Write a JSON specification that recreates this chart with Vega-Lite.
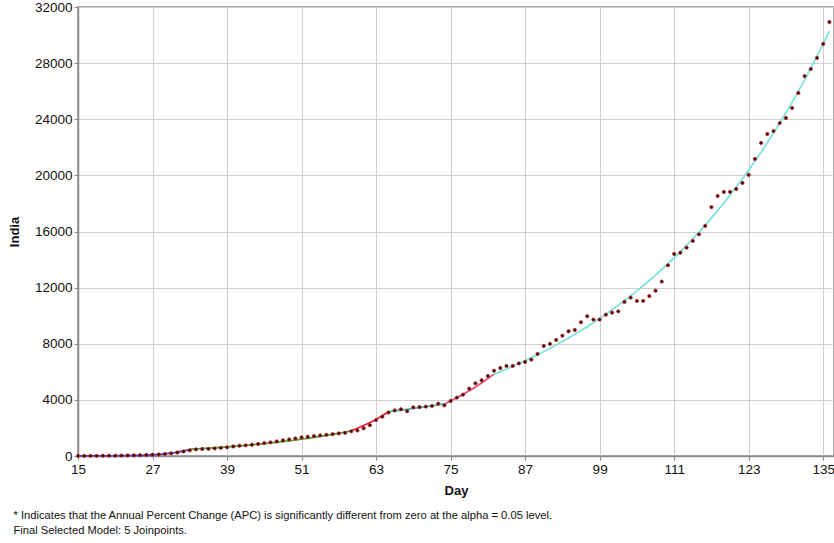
{
  "$schema": "https://vega.github.io/schema/vega-lite/v6.json",
  "width": 756,
  "height": 449,
  "autosize": "none",
  "padding": {"left": 78, "top": 7, "right": 0, "bottom": 87},
  "background": "white",
  "config": {
    "font": "Liberation Sans",
    "view": {"stroke": "#8c8c8c", "strokeWidth": 1.5},
    "axis": {"gridColor": "#cfcfcf", "gridWidth": 1, "domainColor": "#8c8c8c", "domainWidth": 1.5, "tickColor": "#8c8c8c", "tickSize": 4, "labelColor": "#111", "labelFontSize": 13.5, "titleFontSize": 13, "titleFontWeight": "bold", "titleColor": "#111", "labelFont": "Liberation Sans", "titleFont": "Liberation Sans"}
  },
  "title": {
    "text": ["* Indicates that the Annual Percent Change (APC) is significantly different from zero at the alpha = 0.05 level.", "\u00a0Final Selected Model: 5 Joinpoints."],
    "orient": "bottom",
    "anchor": "start",
    "frame": "bounds",
    "dx": 5,
    "offset": 12,
    "fontSize": 11.2,
    "fontWeight": "normal",
    "color": "#111",
    "lineHeight": 15,
    "font": "Liberation Sans"
  },
  "datasets": {
    "obs": [
      {"d":15,"v":5},{"d":16,"v":8},{"d":17,"v":10},{"d":18,"v":15},{"d":19,"v":20},{"d":20,"v":22},{"d":21,"v":25},{"d":22,"v":30},{"d":23,"v":40},{"d":24,"v":50},{"d":25,"v":60},{"d":26,"v":75},{"d":27,"v":90},{"d":28,"v":110},{"d":29,"v":150},{"d":30,"v":190},{"d":31,"v":250},{"d":32,"v":320},{"d":33,"v":400},{"d":34,"v":470},{"d":35,"v":500},{"d":36,"v":510},{"d":37,"v":540},{"d":38,"v":580},{"d":39,"v":620},{"d":40,"v":680},{"d":41,"v":730},{"d":42,"v":760},{"d":43,"v":800},{"d":44,"v":860},{"d":45,"v":920},{"d":46,"v":975},{"d":47,"v":1040},{"d":48,"v":1120},{"d":49,"v":1180},{"d":50,"v":1250},{"d":51,"v":1330},{"d":52,"v":1370},{"d":53,"v":1420},{"d":54,"v":1470},{"d":55,"v":1510},{"d":56,"v":1560},{"d":57,"v":1610},{"d":58,"v":1650},{"d":59,"v":1760},{"d":60,"v":1820},{"d":61,"v":1980},{"d":62,"v":2200},{"d":63,"v":2560},{"d":64,"v":2800},{"d":65,"v":3100},{"d":66,"v":3250},{"d":67,"v":3330},{"d":68,"v":3190},{"d":69,"v":3470},{"d":70,"v":3490},{"d":71,"v":3520},{"d":72,"v":3570},{"d":73,"v":3730},{"d":74,"v":3610},{"d":75,"v":3920},{"d":76,"v":4160},{"d":77,"v":4370},{"d":78,"v":4800},{"d":79,"v":5180},{"d":80,"v":5400},{"d":81,"v":5700},{"d":82,"v":6080},{"d":83,"v":6270},{"d":84,"v":6420},{"d":85,"v":6420},{"d":86,"v":6600},{"d":87,"v":6700},{"d":88,"v":6870},{"d":89,"v":7270},{"d":90,"v":7840},{"d":91,"v":7990},{"d":92,"v":8270},{"d":93,"v":8575},{"d":94,"v":8890},{"d":95,"v":8980},{"d":96,"v":9530},{"d":97,"v":9960},{"d":98,"v":9720},{"d":99,"v":9720},{"d":100,"v":10070},{"d":101,"v":10220},{"d":102,"v":10310},{"d":103,"v":10980},{"d":104,"v":11290},{"d":105,"v":11050},{"d":106,"v":11050},{"d":107,"v":11400},{"d":108,"v":11780},{"d":109,"v":12430},{"d":110,"v":13590},{"d":111,"v":14400},{"d":112,"v":14490},{"d":113,"v":14850},{"d":114,"v":15330},{"d":115,"v":15800},{"d":116,"v":16400},{"d":117,"v":17740},{"d":118,"v":18530},{"d":119,"v":18820},{"d":120,"v":18830},{"d":121,"v":19030},{"d":122,"v":19460},{"d":123,"v":20030},{"d":124,"v":21170},{"d":125,"v":22310},{"d":126,"v":22950},{"d":127,"v":23160},{"d":128,"v":23730},{"d":129,"v":24090},{"d":130,"v":24800},{"d":131,"v":25870},{"d":132,"v":27080},{"d":133,"v":27580},{"d":134,"v":28370},{"d":135,"v":29370},{"d":136,"v":30930}
    ],
    "fit": [
      {"d":15,"f":3,"s":"1"},{"d":16,"f":4,"s":"1"},{"d":17,"f":5,"s":"1"},{"d":18,"f":7,"s":"1"},{"d":19,"f":9,"s":"1"},{"d":20,"f":12,"s":"1"},{"d":21,"f":16,"s":"1"},{"d":22,"f":21,"s":"1"},{"d":23,"f":29,"s":"1"},{"d":24,"f":38,"s":"1"},{"d":25,"f":50,"s":"1"},{"d":26,"f":66,"s":"1"},{"d":27,"f":88,"s":"1"},{"d":28,"f":117,"s":"1"},{"d":29,"f":155,"s":"1"},{"d":30,"f":206,"s":"1"},{"d":31,"f":273,"s":"1"},{"d":32,"f":362,"s":"1"},{"d":33,"f":480,"s":"1"},
      {"d":33,"f":480,"s":"2"},{"d":34,"f":505,"s":"2"},{"d":35,"f":531,"s":"2"},{"d":36,"f":559,"s":"2"},{"d":37,"f":588,"s":"2"},{"d":38,"f":619,"s":"2"},{"d":39,"f":651,"s":"2"},{"d":40,"f":685,"s":"2"},{"d":41,"f":721,"s":"2"},{"d":42,"f":758,"s":"2"},{"d":43,"f":798,"s":"2"},{"d":44,"f":839,"s":"2"},{"d":45,"f":883,"s":"2"},{"d":46,"f":929,"s":"2"},{"d":47,"f":977,"s":"2"},{"d":48,"f":1028,"s":"2"},{"d":49,"f":1082,"s":"2"},{"d":50,"f":1138,"s":"2"},{"d":51,"f":1197,"s":"2"},{"d":52,"f":1260,"s":"2"},{"d":53,"f":1325,"s":"2"},{"d":54,"f":1394,"s":"2"},{"d":55,"f":1467,"s":"2"},{"d":56,"f":1543,"s":"2"},{"d":57,"f":1624,"s":"2"},{"d":58,"f":1708,"s":"2"},{"d":59,"f":1800,"s":"2"},
      {"d":59,"f":1800,"s":"3"},{"d":60,"f":1977,"s":"3"},{"d":61,"f":2171,"s":"3"},{"d":62,"f":2384,"s":"3"},{"d":63,"f":2618,"s":"3"},{"d":64,"f":2875,"s":"3"},{"d":65,"f":3157,"s":"3"},
      {"d":65,"f":3157,"s":"4"},{"d":66,"f":3214,"s":"4"},{"d":67,"f":3271,"s":"4"},{"d":68,"f":3330,"s":"4"},{"d":69,"f":3390,"s":"4"},{"d":70,"f":3450,"s":"4"},{"d":71,"f":3512,"s":"4"},{"d":72,"f":3575,"s":"4"},{"d":73,"f":3639,"s":"4"},{"d":74,"f":3704,"s":"4"},
      {"d":74,"f":3704,"s":"5"},{"d":75,"f":3921,"s":"5"},{"d":76,"f":4150,"s":"5"},{"d":77,"f":4393,"s":"5"},{"d":78,"f":4650,"s":"5"},{"d":79,"f":4922,"s":"5"},{"d":80,"f":5210,"s":"5"},{"d":81,"f":5515,"s":"5"},{"d":82,"f":5835,"s":"5"},
      {"d":82,"f":5835,"s":"6"},{"d":83,"f":6016,"s":"6"},{"d":84,"f":6202,"s":"6"},{"d":85,"f":6394,"s":"6"},{"d":86,"f":6592,"s":"6"},{"d":87,"f":6796,"s":"6"},{"d":88,"f":7007,"s":"6"},{"d":89,"f":7224,"s":"6"},{"d":90,"f":7447,"s":"6"},{"d":91,"f":7678,"s":"6"},{"d":92,"f":7916,"s":"6"},{"d":93,"f":8161,"s":"6"},{"d":94,"f":8414,"s":"6"},{"d":95,"f":8674,"s":"6"},{"d":96,"f":8943,"s":"6"},{"d":97,"f":9220,"s":"6"},{"d":98,"f":9505,"s":"6"},{"d":99,"f":9800,"s":"6"},{"d":100,"f":10103,"s":"6"},{"d":101,"f":10416,"s":"6"},{"d":102,"f":10738,"s":"6"},{"d":103,"f":11071,"s":"6"},{"d":104,"f":11414,"s":"6"},{"d":105,"f":11767,"s":"6"},{"d":106,"f":12131,"s":"6"},{"d":107,"f":12507,"s":"6"},{"d":108,"f":12894,"s":"6"},{"d":109,"f":13293,"s":"6"},{"d":110,"f":13705,"s":"6"},{"d":111,"f":14129,"s":"6"},{"d":112,"f":14567,"s":"6"},{"d":113,"f":15018,"s":"6"},{"d":114,"f":15483,"s":"6"},{"d":115,"f":15962,"s":"6"},{"d":116,"f":16457,"s":"6"},{"d":117,"f":16966,"s":"6"},{"d":118,"f":17492,"s":"6"},{"d":119,"f":18033,"s":"6"},{"d":120,"f":18592,"s":"6"},{"d":121,"f":19167,"s":"6"},{"d":122,"f":19761,"s":"6"},{"d":123,"f":20373,"s":"6"},{"d":124,"f":21004,"s":"6"},{"d":125,"f":21654,"s":"6"},{"d":126,"f":22325,"s":"6"},{"d":127,"f":23016,"s":"6"},{"d":128,"f":23729,"s":"6"},{"d":129,"f":24464,"s":"6"},{"d":130,"f":25221,"s":"6"},{"d":131,"f":26002,"s":"6"},{"d":132,"f":26807,"s":"6"},{"d":133,"f":27637,"s":"6"},{"d":134,"f":28493,"s":"6"},{"d":135,"f":29375,"s":"6"},{"d":136,"f":30285,"s":"6"}
    ]
  },
  "layer": [
    {
      "data": {"name": "fit"},
      "mark": {"type": "line", "strokeWidth": 1.8, "interpolate": "monotone"},
      "encoding": {
        "x": {"field": "d", "type": "quantitative", "scale": {"domain": [15, 136.74], "nice": false, "zero": false},
          "axis": {"title": "Day", "values": [15, 27, 39, 51, 63, 75, 87, 99, 111, 123, 135], "labelPadding": 2, "titlePadding": 9, "labelFlush": false}},
        "y": {"field": "f", "type": "quantitative", "scale": {"domain": [0, 32000], "nice": false},
          "axis": {"title": "India", "values": [0, 4000, 8000, 12000, 16000, 20000, 24000, 28000, 32000], "format": "d", "labelPadding": 2, "titlePadding": 13}},
        "color": {"field": "s", "type": "nominal", "legend": null,
          "scale": {"domain": ["1", "2", "3", "4", "5", "6"], "range": ["#5a3fd0", "#5f9e3c", "#e8203a", "#4fb5a5", "#e0507a", "#7fe3de"]}}
      }
    },
    {
      "data": {"name": "obs"},
      "mark": {"type": "point", "filled": true, "shape": "circle", "size": 11, "fill": "#3d0a0a", "stroke": "#b52020", "strokeWidth": 0.7, "opacity": 1},
      "encoding": {
        "x": {"field": "d", "type": "quantitative"},
        "y": {"field": "v", "type": "quantitative"}
      }
    }
  ]
}
